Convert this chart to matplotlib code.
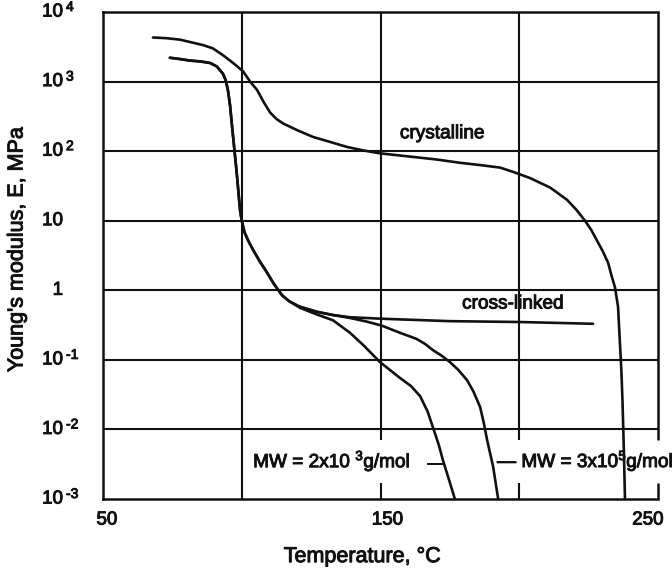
import matplotlib
matplotlib.use("Agg")
import matplotlib.pyplot as plt
import matplotlib.transforms as mtransforms
import matplotlib.patheffects as pe

plt.rcParams['font.family'] = ['Liberation Sans', 'DejaVu Sans']
plt.rcParams['mathtext.fontset'] = 'custom'
plt.rcParams['mathtext.rm'] = 'Liberation Sans'
plt.rcParams['mathtext.it'] = 'Liberation Sans:italic'
plt.rcParams['mathtext.bf'] = 'Liberation Sans:bold'

# ---------------- data ----------------
temp_crystalline = [68.0, 73.0, 77.8, 81.4, 86.0, 89.6, 93.2, 95.8, 98.0, 100.5,
                    103.0, 105.5, 108.0, 110.2, 112.5, 114.9, 120.0, 125.7, 132.0,
                    137.9, 144.0, 149.8, 160.0, 170.0, 178.7, 186.0, 193.1, 198.0,
                    203.9, 211.1, 217.2, 220.5, 223.7, 226.0, 228.0, 230.0, 232.0,
                    233.3, 234.5, 235.6, 236.2, 236.8, 237.2, 237.7, 238.1]
modulus_crystalline = [4300, 4200, 4000, 3700, 3350, 3000, 2400, 2000, 1700, 1400,
                       1000, 760, 500, 360, 290, 250, 200, 160, 135,
                       115, 102, 93, 84, 76, 68, 63, 58, 50,
                       41, 30, 20, 14.5, 10, 7.3, 5.2, 3.7, 2.5,
                       1.6, 1.1, 0.58, 0.20, 0.07, 0.026, 0.005, 0.001]

temp_mw_low = [74.1, 78.0, 81.4, 85.0, 88.6, 91.0, 93.2, 94.2, 95.0, 95.8, 96.4,
               97.3, 98.2, 99.4, 100.0, 101.0, 102.5, 104.1, 106.5, 109.1, 111.5,
               114.5, 117.0, 121.0, 127.0, 132.9, 139.0, 144.0, 149.8, 157.0,
               161.0, 164.3, 167.0, 168.9, 171.0, 172.5, 174.5, 176.8]
modulus_mw_low = [2200, 2100, 2000, 1950, 1850, 1650, 1300, 1050, 760, 450, 250,
                  110, 48, 14, 10, 6.8, 5.0, 3.8, 2.6, 1.8, 1.25,
                  0.85, 0.70, 0.56, 0.45, 0.37, 0.245, 0.16, 0.093, 0.055,
                  0.042, 0.030, 0.018, 0.0107, 0.006, 0.0036, 0.002, 0.001]

temp_mw_high = [74.1, 78.0, 81.4, 85.0, 88.6, 91.0, 93.2, 94.2, 95.0, 95.8, 96.4,
                97.3, 98.2, 99.4, 100.0, 101.0, 102.5, 104.1, 106.5, 109.1, 111.5,
                114.5, 117.0, 121.0, 127.1, 133.0, 139.0, 145.0, 150.5, 157.0,
                163.0, 166.0, 168.9, 172.0, 175.0, 178.0, 181.2, 183.5, 185.9,
                187.3, 188.4, 190.6, 192.4]
modulus_mw_high = [2200, 2100, 2000, 1950, 1850, 1650, 1300, 1050, 760, 450, 250,
                   110, 48, 14, 10, 6.8, 5.0, 3.8, 2.6, 1.8, 1.25,
                   0.85, 0.70, 0.58, 0.49, 0.44, 0.40, 0.355, 0.31, 0.245,
                   0.20, 0.17, 0.138, 0.115, 0.093, 0.072, 0.051, 0.035, 0.021,
                   0.012, 0.0071, 0.0029, 0.001]

temp_crosslinked = [121.0, 127.1, 133.0, 139.0, 150.5, 175.0, 200.0, 226.6]
modulus_crosslinked = [0.58, 0.49, 0.44, 0.41, 0.39, 0.36, 0.35, 0.33]

x_ticks = [50, 150, 250]
x_tick_labels = ["50", "150", "250"]
x_grid = [100, 150, 200]
y_decades = [1e-3, 1e-2, 1e-1, 1, 10, 1e2, 1e3, 1e4]
y_base = ["10", "10", "10", "1", "10", "10", "10", "10"]
y_sup = ["-3", "-2", "-1", "", "", "2", "3", "4"]

label_crystalline = "crystalline"
label_crosslinked = "cross-linked"
label_mw_low = "MW = 2x10 $^{3}$g/mol"
label_mw_high = "\u2014 MW = 3x10$^{5}$g/mol"

# ---------------- figure ----------------
ink = "#111111"
heavy = [pe.withStroke(linewidth=0.7, foreground=ink)]
fig = plt.figure(figsize=(6.72, 5.68), dpi=100)
ax = fig.add_axes([103 / 672, 69 / 568, 555 / 672, 487 / 568])
ax.set_yscale("log")
ax.set_xlim(50, 250)
ax.set_ylim(1e-3, 1e4)

# grid
glw = 1.5
gap_lo, gap_hi = 0.0017, 0.007
for yv in y_decades[1:-1]:
    ax.axhline(yv, color=ink, lw=glw, zorder=1)
for xv in x_grid:
    if xv == 100:
        ax.axvline(xv, color=ink, lw=glw, zorder=1)
    else:
        ax.vlines(xv, 1e-3, gap_lo, color=ink, lw=glw, zorder=1)
        ax.vlines(xv, gap_hi, 1e4, color=ink, lw=glw, zorder=1)

# spines (right one broken by label)
for s in ["left", "top", "bottom"]:
    ax.spines[s].set_linewidth(1.8)
    ax.spines[s].set_color(ink)
ax.spines["right"].set_visible(False)
ax.vlines(250, 1e-3, gap_lo, color=ink, lw=1.8, clip_on=False, zorder=3)
ax.vlines(250, gap_hi, 1e4, color=ink, lw=1.8, clip_on=False, zorder=3)

# curves
lw = 1.9
for tx, ey in [(temp_crystalline, modulus_crystalline), (temp_mw_low, modulus_mw_low),
               (temp_mw_high, modulus_mw_high), (temp_crosslinked, modulus_crosslinked)]:
    ax.plot(tx, ey, color=ink, lw=lw, zorder=4, solid_joinstyle="round",
            solid_capstyle="round")

# ticks
ax.set_xticks(x_ticks, x_tick_labels)
ax.tick_params(axis="x", length=0, pad=9, labelsize=13.5, colors=ink)
x_label_shift = [4, 7, -10]
for lab, dx in zip(ax.get_xticklabels(), x_label_shift):
    lab.set_transform(lab.get_transform() + mtransforms.Affine2D().translate(dx, 0))
    lab.set_path_effects(heavy)
ax.set_yticks([])
ax.yaxis.set_minor_locator(matplotlib.ticker.NullLocator())

ytrans = ax.get_yaxis_transform()
sup_trans = mtransforms.offset_copy(ytrans, fig=fig, x=0, y=5, units="dots")
for yv, b, s in zip(y_decades, y_base, y_sup):
    ax.text(-40 / 555, yv, b, transform=ytrans, ha="right", va="center",
            fontsize=13.5, color=ink, path_effects=heavy)
    if s:
        ax.text(-37 / 555, yv, s, transform=sup_trans, ha="left", va="center",
                fontsize=10, color=ink, path_effects=heavy)

# axis labels
ax.set_xlabel("Temperature, \u00b0C", fontsize=15.5, color=ink, path_effects=heavy)
ax.xaxis.set_label_coords((362 - 103) / 555, -(546 - 499) / 487)
ax.xaxis.label.set_va("top")
ax.set_ylabel("Young's modulus, E, MPa", fontsize=15.5, color=ink, path_effects=heavy)
ax.yaxis.set_label_coords((17 - 103) / 555, (499 - 250) / 487)
ax.yaxis.label.set_va("center")

# annotations
kw = dict(fontsize=13.7, va="center", color=ink, path_effects=heavy)
ax.text(157.0, 178, label_crystalline, ha="left", **kw)
ax.text(179.4, 0.635, label_crosslinked, ha="left", **kw)
ax.text(104.1, 0.0035, label_mw_low, ha="left", **kw)
ax.text(169.5, 0.0033, "\u2014", fontsize=11, ha="center", va="center", color=ink,
        path_effects=heavy)
ax.text(192.0, 0.0035, label_mw_high, ha="left", clip_on=False, **kw)

fig.savefig("out.png", dpi=100, facecolor="white")
